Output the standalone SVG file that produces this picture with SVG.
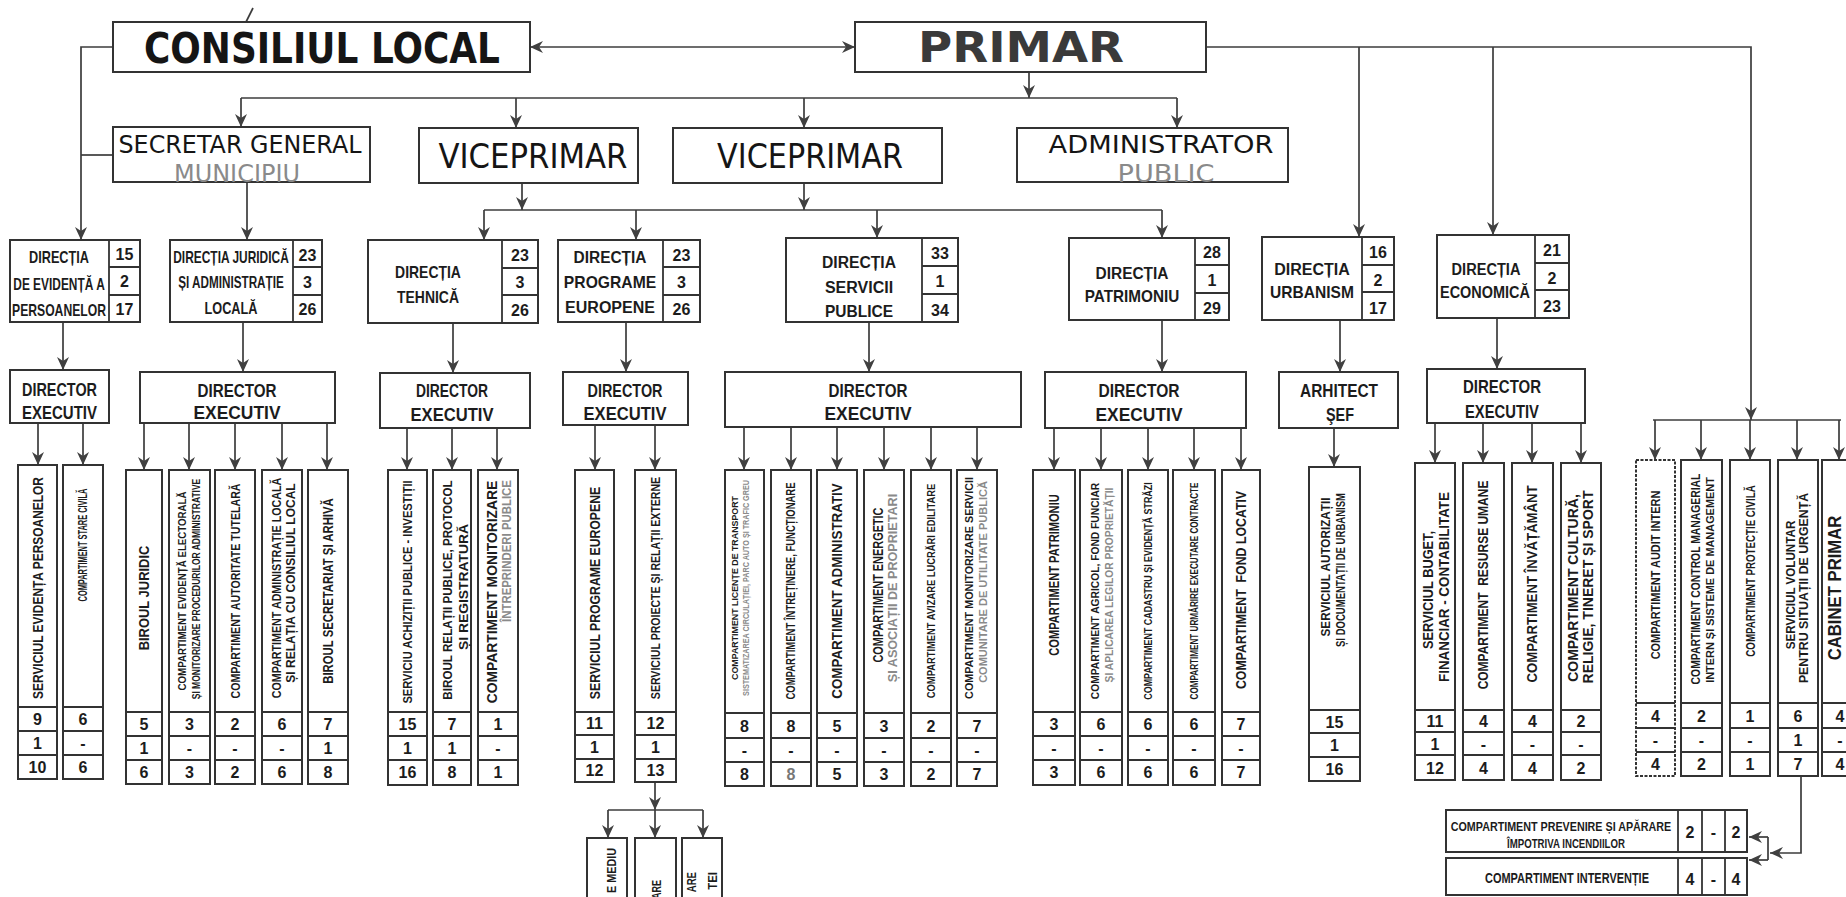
<svg xmlns="http://www.w3.org/2000/svg" width="1846" height="897" viewBox="0 0 1846 897">
<defs>
<marker id="ah" markerUnits="userSpaceOnUse" markerWidth="14" markerHeight="12" refX="13" refY="6" orient="auto-start-reverse" viewBox="0 0 14 12"><path d="M0,0 L13,6 L0,12 L4,6 z" fill="#404040"/></marker>
</defs>
<style>
.bx{fill:#fff;stroke:#333;stroke-width:2}
.dv{stroke:#333;stroke-width:1.8;fill:none}
.ln{stroke:#3c3c3c;stroke-width:1.7;fill:none}
.ar{marker-end:url(#ah)}
.t{font-family:"Liberation Sans",Arial,sans-serif;font-weight:bold;fill:#1c1c1c}
.h{font-family:"DejaVu Sans",Verdana,sans-serif;fill:#151515}
.c{text-anchor:middle}
.e{text-anchor:end}
.g{fill:#8a8a8a}
.n{font-size:16px}
.d{font-size:16px}
.x{font-size:19px}
</style>
<rect width="1846" height="897" fill="#fff"/>

<g id="connectors">
<line class="ln" x1="253" y1="8" x2="246" y2="22"/>
<path class="ln" d="M530,47 H855" marker-start="url(#ah)" marker-end="url(#ah)"/>
<path class="ln ar" d="M113,47 H81 V240"/>
<path class="ln" d="M113,155 H81"/>
<path class="ln ar" d="M1029,72 V98"/>
<path class="ln" d="M241,98 H1177"/>
<path class="ln ar" d="M241,98 V127"/>
<path class="ln ar" d="M516,98 V128"/>
<path class="ln ar" d="M804,98 V128"/>
<path class="ln ar" d="M1177,98 V128"/>
<path class="ln ar" d="M247,182 V240"/>
<path class="ln ar" d="M522,183 V210"/>
<path class="ln ar" d="M804,183 V210"/>
<path class="ln" d="M484,210 H1162"/>
<path class="ln ar" d="M484,210 V240"/>
<path class="ln ar" d="M636,210 V240"/>
<path class="ln ar" d="M877,210 V238"/>
<path class="ln ar" d="M1162,210 V238"/>
<path class="ln ar" d="M1206,47 H1751 V420"/>
<path class="ln ar" d="M1359,47 V237"/>
<path class="ln ar" d="M1493,47 V235"/>
<path class="ln" d="M1653,420 H1841"/>
<path class="ln ar" d="M1655,420 V460"/>
<path class="ln ar" d="M1701,420 V460"/>
<path class="ln ar" d="M1750,420 V460"/>
<path class="ln ar" d="M1797,420 V460"/>
<path class="ln ar" d="M1839,420 V460"/>
<path class="ln ar" d="M63,322 V370"/>
<path class="ln ar" d="M243,322 V372"/>
<path class="ln ar" d="M453,323 V373"/>
<path class="ln ar" d="M626,322 V372"/>
<path class="ln ar" d="M869,322 V372"/>
<path class="ln ar" d="M1162,320 V372"/>
<path class="ln ar" d="M1340,320 V372"/>
<path class="ln ar" d="M1497,318 V369"/>
<path class="ln ar" d="M38,423 V465"/>
<path class="ln ar" d="M83,423 V465"/>
<path class="ln ar" d="M144,423 V470"/>
<path class="ln ar" d="M189,423 V470"/>
<path class="ln ar" d="M235,423 V470"/>
<path class="ln ar" d="M282,423 V470"/>
<path class="ln ar" d="M327,423 V470"/>
<path class="ln ar" d="M407,428 V470"/>
<path class="ln ar" d="M452,428 V470"/>
<path class="ln ar" d="M497,428 V470"/>
<path class="ln ar" d="M595,425 V470"/>
<path class="ln ar" d="M655,425 V470"/>
<path class="ln ar" d="M744,427 V470"/>
<path class="ln ar" d="M791,427 V470"/>
<path class="ln ar" d="M837,427 V470"/>
<path class="ln ar" d="M884,427 V470"/>
<path class="ln ar" d="M931,427 V470"/>
<path class="ln ar" d="M977,427 V470"/>
<path class="ln ar" d="M1054,428 V470"/>
<path class="ln ar" d="M1101,428 V470"/>
<path class="ln ar" d="M1148,428 V470"/>
<path class="ln ar" d="M1194,428 V470"/>
<path class="ln ar" d="M1241,428 V470"/>
<path class="ln ar" d="M1334,428 V467"/>
<path class="ln ar" d="M1435,423 V463"/>
<path class="ln ar" d="M1483,423 V463"/>
<path class="ln ar" d="M1532,423 V463"/>
<path class="ln ar" d="M1581,423 V463"/>
<path class="ln ar" d="M655,782 V810"/>
<path class="ln" d="M608,810 H703"/>
<path class="ln ar" d="M608,810 V838"/>
<path class="ln ar" d="M655,810 V838"/>
<path class="ln ar" d="M703,810 V838"/>
<path class="ln ar" d="M1801,776 V853 H1770"/>
<path class="ln" d="M1768,837 V860"/>
<path class="ln ar" d="M1768,837 H1749"/>
<path class="ln ar" d="M1768,860 H1749"/>
</g>

<g id="consiliul"><rect class="bx" x="113" y="22" width="417" height="50"/><text class="h c" x="322" y="63" font-size="42" font-weight="bold" textLength="356" lengthAdjust="spacingAndGlyphs">CONSILIUL LOCAL</text></g>
<g id="primar"><rect class="bx" x="855" y="22" width="351" height="50"/><text class="h c" x="1021" y="62" font-size="42" font-weight="bold" textLength="206" lengthAdjust="spacingAndGlyphs" style="fill:#3a3a3a">PRIMAR</text></g>
<g id="secretar"><rect class="bx" x="113" y="127" width="257" height="55"/><text class="h c" x="240" y="153" font-size="24" textLength="243" lengthAdjust="spacingAndGlyphs">SECRETAR GENERAL</text><text class="h c" x="237" y="182" font-size="24" textLength="126" lengthAdjust="spacingAndGlyphs" style="fill:#8a8a8a">MUNICIPIU</text></g>
<g id="viceprimar1"><rect class="bx" x="419" y="128" width="219" height="55"/><text class="h c" x="533" y="168" font-size="33" textLength="189" lengthAdjust="spacingAndGlyphs">VICEPRIMAR</text></g>
<g id="viceprimar2"><rect class="bx" x="673" y="128" width="269" height="55"/><text class="h c" x="810" y="168" font-size="33" textLength="186" lengthAdjust="spacingAndGlyphs">VICEPRIMAR</text></g>
<g id="administrator"><rect class="bx" x="1017" y="128" width="271" height="54"/><text class="h c" x="1161" y="153" font-size="25" textLength="225" lengthAdjust="spacingAndGlyphs">ADMINISTRATOR</text><text class="h c" x="1166" y="182" font-size="24" textLength="97" lengthAdjust="spacingAndGlyphs" style="fill:#8a8a8a">PUBLIC</text></g>

<g id="dir_evidenta"><rect class="bx" x="10" y="240" width="130" height="82"/><path class="dv" d="M109 240V322M109 267H140M109 295H140"/>
<text class="t c d" transform="translate(59 263) scale(0.794 1)">DIRECȚIA</text>
<text class="t c d" transform="translate(59 290) scale(0.744 1)">DE EVIDENȚĂ A</text>
<text class="t c d" transform="translate(59 316) scale(0.761 1)">PERSOANELOR</text>
<text class="t c d" x="124.5" y="260">15</text><text class="t c d" x="124.5" y="287">2</text><text class="t c d" x="124.5" y="315">17</text></g>

<g id="dir_juridica"><rect class="bx" x="170" y="240" width="152" height="82"/><path class="dv" d="M293 240V322M293 267H322M293 295H322"/>
<text class="t c d" transform="translate(231 263) scale(0.746 1)">DIRECȚIA JURIDICĂ</text>
<text class="t c d" transform="translate(231 288) scale(0.732 1)">ȘI ADMINISTRAȚIE</text>
<text class="t c d" transform="translate(231 314) scale(0.795 1)">LOCALĂ</text>
<text class="t c d" x="307.5" y="261">23</text><text class="t c d" x="307.5" y="288">3</text><text class="t c d" x="307.5" y="315">26</text></g>

<g id="dir_tehnica"><rect class="bx" x="368" y="240" width="170" height="83"/><path class="dv" d="M502 240V323M502 268H538M502 295H538"/>
<text class="t c d" transform="translate(428 278) scale(0.873 1)">DIRECȚIA</text>
<text class="t c d" transform="translate(428 303) scale(0.872 1)">TEHNICĂ</text>
<text class="t c d" x="520" y="261">23</text><text class="t c d" x="520" y="288">3</text><text class="t c d" x="520" y="316">26</text></g>

<g id="dir_programe"><rect class="bx" x="558" y="240" width="142" height="82"/><path class="dv" d="M663 240V322M663 267H700M663 295H700"/>
<text class="t c d" transform="translate(610 263) scale(0.966 1)">DIRECȚIA</text>
<text class="t c d" transform="translate(610 288) scale(0.98 1)">PROGRAME</text>
<text class="t c d" transform="translate(610 313)">EUROPENE</text>
<text class="t c d" x="681.5" y="261">23</text><text class="t c d" x="681.5" y="288">3</text><text class="t c d" x="681.5" y="315">26</text></g>

<g id="dir_servicii"><rect class="bx" x="786" y="238" width="172" height="84"/><path class="dv" d="M922 238V322M922 266H958M922 294H958"/>
<text class="t c d" transform="translate(859 268) scale(0.979 1)">DIRECȚIA</text>
<text class="t c d" transform="translate(859 293)">SERVICII</text>
<text class="t c d" transform="translate(859 317) scale(0.97 1)">PUBLICE</text>
<text class="t c d" x="940" y="259">33</text><text class="t c d" x="940" y="287">1</text><text class="t c d" x="940" y="316">34</text></g>

<g id="dir_patrimoniu"><rect class="bx" x="1069" y="238" width="160" height="82"/><path class="dv" d="M1195 238V320M1195 265H1229M1195 293H1229"/>
<text class="t c d" transform="translate(1132 279) scale(0.966 1)">DIRECȚIA</text>
<text class="t c d" transform="translate(1132 302) scale(0.957 1)">PATRIMONIU</text>
<text class="t c d" x="1212" y="258">28</text><text class="t c d" x="1212" y="286">1</text><text class="t c d" x="1212" y="314">29</text></g>

<g id="dir_urbanism"><rect class="bx" x="1262" y="237" width="132" height="83"/><path class="dv" d="M1362 237V320M1362 265H1394M1362 292H1394"/>
<text class="t c d" transform="translate(1312 275)">DIRECȚIA</text>
<text class="t c d" transform="translate(1312 298) scale(0.974 1)">URBANISM</text>
<text class="t c d" x="1378" y="258">16</text><text class="t c d" x="1378" y="286">2</text><text class="t c d" x="1378" y="314">17</text></g>

<g id="dir_economica"><rect class="bx" x="1437" y="235" width="132" height="83"/><path class="dv" d="M1535 235V318M1535 263H1569M1535 290H1569"/>
<text class="t c d" transform="translate(1486 275) scale(0.913 1)">DIRECȚIA</text>
<text class="t c d" transform="translate(1485 298) scale(0.904 1)">ECONOMICĂ</text>
<text class="t c d" x="1552" y="256">21</text><text class="t c d" x="1552" y="284">2</text><text class="t c d" x="1552" y="312">23</text></g>

<g id="de_evidenta"><rect class="bx" x="10" y="370" width="99" height="53"/><text class="t c x" x="59.5" y="396" textLength="75" lengthAdjust="spacingAndGlyphs">DIRECTOR</text><text class="t c x" x="59.5" y="419" textLength="75" lengthAdjust="spacingAndGlyphs">EXECUTIV</text></g>
<g id="de_juridica"><rect class="bx" x="140" y="372" width="195" height="51"/><text class="t c x" x="237" y="397" textLength="79" lengthAdjust="spacingAndGlyphs">DIRECTOR</text><text class="t c x" x="237" y="419" textLength="87" lengthAdjust="spacingAndGlyphs">EXECUTIV</text></g>
<g id="de_tehnica"><rect class="bx" x="380" y="373" width="150" height="55"/><text class="t c x" x="452" y="397" textLength="72" lengthAdjust="spacingAndGlyphs">DIRECTOR</text><text class="t c x" x="452" y="421" textLength="83" lengthAdjust="spacingAndGlyphs">EXECUTIV</text></g>
<g id="de_programe"><rect class="bx" x="563" y="372" width="125" height="53"/><text class="t c x" x="625" y="397" textLength="75" lengthAdjust="spacingAndGlyphs">DIRECTOR</text><text class="t c x" x="625" y="420" textLength="83" lengthAdjust="spacingAndGlyphs">EXECUTIV</text></g>
<g id="de_servicii"><rect class="bx" x="725" y="372" width="296" height="55"/><text class="t c x" x="868" y="397" textLength="79" lengthAdjust="spacingAndGlyphs">DIRECTOR</text><text class="t c x" x="868" y="420" textLength="87" lengthAdjust="spacingAndGlyphs">EXECUTIV</text></g>
<g id="de_patrimoniu"><rect class="bx" x="1045" y="372" width="201" height="56"/><text class="t c x" x="1139" y="397" textLength="81" lengthAdjust="spacingAndGlyphs">DIRECTOR</text><text class="t c x" x="1139" y="421" textLength="87" lengthAdjust="spacingAndGlyphs">EXECUTIV</text></g>
<g id="arhitect"><rect class="bx" x="1279" y="372" width="119" height="56"/><text class="t c x" x="1339" y="397" textLength="78" lengthAdjust="spacingAndGlyphs">ARHITECT</text><text class="t c x" x="1340" y="421" textLength="28" lengthAdjust="spacingAndGlyphs">ŞEF</text></g>
<g id="de_economica"><rect class="bx" x="1427" y="369" width="158" height="54"/><text class="t c x" x="1502" y="393" textLength="78" lengthAdjust="spacingAndGlyphs">DIRECTOR</text><text class="t c x" x="1502" y="418" textLength="74" lengthAdjust="spacingAndGlyphs">EXECUTIV</text></g>

<g id="v1"><rect class="bx" x="18" y="465" width="39" height="314"/><path class="dv" d="M18 707H57M18 731H57M18 755H57"/><text class="t c" font-size="15" transform="translate(43.4 588) rotate(-90) scale(0.796 1)">SERVICIUL EVIDENȚA PERSOANELOR</text><text class="t c n" x="37.5" y="725">9</text><text class="t c n" x="37.5" y="749">1</text><text class="t c n" x="37.5" y="773">10</text></g>
<g id="v2"><rect class="bx" x="63" y="465" width="40" height="314"/><path class="dv" d="M63 707H103M63 731H103M63 755H103"/><text class="t c" font-size="12" transform="translate(87.3 545) rotate(-90) scale(0.617 1)">COMPARTIMENT STARE CIVILĂ</text><text class="t c n" x="83" y="725">6</text><text class="t c n" x="83" y="749">-</text><text class="t c n" x="83" y="773">6</text></g>

<g id="v3"><rect class="bx" x="126" y="470" width="36" height="314"/><path class="dv" d="M126 712H162M126 736H162M126 760H162"/><text class="t c" font-size="15" transform="translate(149.4 598) rotate(-90) scale(0.863 1)">BIROUL JURIDIC</text><text class="t c n" x="144" y="730">5</text><text class="t c n" x="144" y="754">1</text><text class="t c n" x="144" y="778">6</text></g>
<g id="v4"><rect class="bx" x="169" y="470" width="41" height="314"/><path class="dv" d="M169 712H210M169 736H210M169 760H210"/><text class="t c" font-size="10" transform="translate(185.6 591) rotate(-90) scale(0.971 1)">COMPARTIMENT EVIDENȚĂ ELECTORALĂ</text><text class="t c" font-size="10" transform="translate(199.6 589) rotate(-90) scale(0.85 1)">ȘI MONITORIZARE PROCEDURILOR ADMINISTRATIVE</text><text class="t c n" x="189.5" y="730">3</text><text class="t c n" x="189.5" y="754">-</text><text class="t c n" x="189.5" y="778">3</text></g>
<g id="v5"><rect class="bx" x="215" y="470" width="40" height="314"/><path class="dv" d="M215 712H255M215 736H255M215 760H255"/><text class="t c" font-size="13" transform="translate(239.7 591) rotate(-90) scale(0.816 1)">COMPARTIMENT AUTORITATE TUTELARĂ</text><text class="t c n" x="235" y="730">2</text><text class="t c n" x="235" y="754">-</text><text class="t c n" x="235" y="778">2</text></g>
<g id="v6"><rect class="bx" x="262" y="470" width="40" height="314"/><path class="dv" d="M262 712H302M262 736H302M262 760H302"/><text class="t c" font-size="12" transform="translate(281.3 588) rotate(-90) scale(0.893 1)">COMPARTIMENT ADMINISTRAȚIE LOCALĂ</text><text class="t c" font-size="12" transform="translate(295.3 583) rotate(-90)">ȘI RELAȚIA CU CONSILIUL LOCAL</text><text class="t c n" x="282" y="730">6</text><text class="t c n" x="282" y="754">-</text><text class="t c n" x="282" y="778">6</text></g>
<g id="v7"><rect class="bx" x="308" y="470" width="40" height="314"/><path class="dv" d="M308 712H348M308 736H348M308 760H348"/><text class="t c" font-size="14" transform="translate(333 591) rotate(-90) scale(0.811 1)">BIROUL SECRETARIAT ȘI ARHIVĂ</text><text class="t c n" x="328" y="730">7</text><text class="t c n" x="328" y="754">1</text><text class="t c n" x="328" y="778">8</text></g>

<g id="v8"><rect class="bx" x="388" y="470" width="39" height="315"/><path class="dv" d="M388 712H427M388 736H427M388 760H427"/><text class="t c" font-size="13" transform="translate(411.7 592) rotate(-90) scale(0.857 1)">SERVICIU ACHIZIȚII PUBLICE - INVESTIȚII</text><text class="t c n" x="407.5" y="730">15</text><text class="t c n" x="407.5" y="754">1</text><text class="t c n" x="407.5" y="778">16</text></g>
<g id="v9"><rect class="bx" x="433" y="470" width="38" height="315"/><path class="dv" d="M433 712H471M433 736H471M433 760H471"/><text class="t c" font-size="12" transform="translate(452.3 590) rotate(-90) scale(0.97 1)">BIROUL RELAȚII PUBLICE, PROTOCOL</text><text class="t c" font-size="13" transform="translate(467.7 587) rotate(-90) scale(1.067 1)">ȘI REGISTRATURĂ</text><text class="t c n" x="452" y="730">7</text><text class="t c n" x="452" y="754">1</text><text class="t c n" x="452" y="778">8</text></g>
<g id="v10"><rect class="bx" x="478" y="470" width="40" height="315"/><path class="dv" d="M478 712H518M478 736H518M478 760H518"/><text class="t c" font-size="14" transform="translate(497 592) rotate(-90) scale(0.99 1)">COMPARTIMENT MONITORIZARE</text><text class="t c g" font-size="13" transform="translate(510.7 551) rotate(-90) scale(0.878 1)">ÎNTREPRINDERI PUBLICE</text><text class="t c n" x="498" y="730">1</text><text class="t c n" x="498" y="754">-</text><text class="t c n" x="498" y="778">1</text></g>

<g id="v11"><rect class="bx" x="575" y="470" width="39" height="312"/><path class="dv" d="M575 712H614M575 735H614M575 759H614"/><text class="t c" font-size="14" transform="translate(600 593) rotate(-90) scale(0.875 1)">SERVICIUL PROGRAME EUROPENE</text><text class="t c n" x="594.5" y="729">11</text><text class="t c n" x="594.5" y="753">1</text><text class="t c n" x="594.5" y="776">12</text></g>
<g id="v12"><rect class="bx" x="635" y="470" width="41" height="312"/><path class="dv" d="M635 712H676M635 735H676M635 759H676"/><text class="t c" font-size="13" transform="translate(659.7 588) rotate(-90) scale(0.812 1)">SERVICIUL PROIECTE ȘI RELAȚII EXTERNE</text><text class="t c n" x="655.5" y="729">12</text><text class="t c n" x="655.5" y="753">1</text><text class="t c n" x="655.5" y="776">13</text></g>

<g id="v13"><rect class="bx" x="725" y="470" width="39" height="316"/><path class="dv" d="M725 713H764M725 738H764M725 762H764"/><text class="t c" font-size="9" transform="translate(738.2 588) rotate(-90) scale(0.984 1)">COMPARTIMENT LICENȚE DE TRANSPORT</text><text class="t c g" font-size="9" transform="translate(749.2 588) rotate(-90) scale(0.801 1)">SISTEMATIZAREA CIRCULAȚIEI, PARC AUTO ȘI TRAFIC GREU</text><text class="t c n" x="744.5" y="731.5">8</text><text class="t c n" x="744.5" y="756">-</text><text class="t c n" x="744.5" y="780">8</text></g>
<g id="v14"><rect class="bx" x="771" y="470" width="40" height="316"/><path class="dv" d="M771 713H811M771 738H811M771 762H811"/><text class="t c" font-size="12" transform="translate(795.3 591) rotate(-90) scale(0.792 1)">COMPARTIMENT ÎNTREȚINERE, FUNCȚIONARE</text><text class="t c n" x="791" y="731.5">8</text><text class="t c n" x="791" y="756">-</text><text class="t c n" x="791" y="780" style="fill:#777">8</text></g>
<g id="v15"><rect class="bx" x="817" y="470" width="40" height="316"/><path class="dv" d="M817 713H857M817 738H857M817 762H857"/><text class="t c" font-size="15" transform="translate(842.4 591) rotate(-90) scale(0.893 1)">COMPARTIMENT ADMINISTRATIV</text><text class="t c n" x="837" y="731.5">5</text><text class="t c n" x="837" y="756">-</text><text class="t c n" x="837" y="780">5</text></g>
<g id="v16"><rect class="bx" x="864" y="470" width="40" height="316"/><path class="dv" d="M864 713H904M864 738H904M864 762H904"/><text class="t c" font-size="14" transform="translate(883 585) rotate(-90) scale(0.78 1)">COMPARTIMENT ENERGETIC</text><text class="t c g" font-size="13" transform="translate(896.7 588) rotate(-90) scale(0.97 1)">ȘI ASOCIAȚII DE PROPRIETARI</text><text class="t c n" x="884" y="731.5">3</text><text class="t c n" x="884" y="756">-</text><text class="t c n" x="884" y="780">3</text></g>
<g id="v17"><rect class="bx" x="911" y="470" width="40" height="316"/><path class="dv" d="M911 713H951M911 738H951M911 762H951"/><text class="t c" font-size="11" transform="translate(935 591) rotate(-90) scale(0.852 1)">COMPARTIMENT AVIZARE LUCRĂRI EDILITARE</text><text class="t c n" x="931" y="731.5">2</text><text class="t c n" x="931" y="756">-</text><text class="t c n" x="931" y="780">2</text></g>
<g id="v18"><rect class="bx" x="957" y="470" width="40" height="316"/><path class="dv" d="M957 713H997M957 738H997M957 762H997"/><text class="t c" font-size="11" transform="translate(973 588) rotate(-90) scale(0.979 1)">COMPARTIMENT MONITORIZARE SERVICII</text><text class="t c g" font-size="11" transform="translate(987 582) rotate(-90)">COMUNITARE DE UTILITATE PUBLICĂ</text><text class="t c n" x="977" y="731.5">7</text><text class="t c n" x="977" y="756">-</text><text class="t c n" x="977" y="780">7</text></g>

<g id="v19"><rect class="bx" x="1033" y="470" width="42" height="315"/><path class="dv" d="M1033 712H1075M1033 736H1075M1033 760H1075"/><text class="t c" font-size="15" transform="translate(1059.4 575) rotate(-90) scale(0.74 1)">COMPARTIMENT PATRIMONIU</text><text class="t c n" x="1054" y="730">3</text><text class="t c n" x="1054" y="754">-</text><text class="t c n" x="1054" y="778">3</text></g>
<g id="v20"><rect class="bx" x="1080" y="470" width="42" height="315"/><path class="dv" d="M1080 712H1122M1080 736H1122M1080 760H1122"/><text class="t c" font-size="11" transform="translate(1099 591) rotate(-90) scale(0.934 1)">COMPARTIMENT AGRICOL, FOND FUNCIAR</text><text class="t c g" font-size="11" transform="translate(1113 585) rotate(-90) scale(0.935 1)">ȘI APLICAREA LEGILOR PROPRIETĂȚII</text><text class="t c n" x="1101" y="730">6</text><text class="t c n" x="1101" y="754">-</text><text class="t c n" x="1101" y="778">6</text></g>
<g id="v21"><rect class="bx" x="1128" y="470" width="40" height="315"/><path class="dv" d="M1128 712H1168M1128 736H1168M1128 760H1168"/><text class="t c" font-size="11" transform="translate(1152 591) rotate(-90) scale(0.809 1)">COMPARTIMENT CADASTRU ȘI EVIDENȚĂ STRĂZI</text><text class="t c n" x="1148" y="730">6</text><text class="t c n" x="1148" y="754">-</text><text class="t c n" x="1148" y="778">6</text></g>
<g id="v22"><rect class="bx" x="1173" y="470" width="42" height="315"/><path class="dv" d="M1173 712H1215M1173 736H1215M1173 760H1215"/><text class="t c" font-size="10" transform="translate(1197.6 591) rotate(-90) scale(0.813 1)">COMPARTIMENT URMĂRIRE EXECUTARE CONTRACTE</text><text class="t c n" x="1194" y="730">6</text><text class="t c n" x="1194" y="754">-</text><text class="t c n" x="1194" y="778">6</text></g>
<g id="v23"><rect class="bx" x="1222" y="470" width="38" height="315"/><path class="dv" d="M1222 712H1260M1222 736H1260M1222 760H1260"/><text class="t c" font-size="14" style="white-space:pre" transform="translate(1246 590) rotate(-90) scale(0.881 1)">COMPARTIMENT  FOND LOCATIV</text><text class="t c n" x="1241" y="730">7</text><text class="t c n" x="1241" y="754">-</text><text class="t c n" x="1241" y="778">7</text></g>

<g id="v24"><rect class="bx" x="1309" y="467" width="51" height="314"/><path class="dv" d="M1309 710H1360M1309 733H1360M1309 757H1360"/><text class="t c" font-size="12" transform="translate(1330.3 567) rotate(-90) scale(0.977 1)">SERVICIUL AUTORIZAȚII</text><text class="t c" font-size="12" transform="translate(1345.3 570) rotate(-90) scale(0.796 1)">ȘI DOCUMENTAȚII DE URBANISM</text><text class="t c n" x="1334.5" y="727.5">15</text><text class="t c n" x="1334.5" y="751">1</text><text class="t c n" x="1334.5" y="775">16</text></g>

<g id="v25"><rect class="bx" x="1415" y="463" width="40" height="317"/><path class="dv" d="M1415 710H1455M1415 732H1455M1415 755H1455"/><text class="t c" font-size="14" transform="translate(1433 590) rotate(-90) scale(0.913 1)">SERVICIUL BUGET,</text><text class="t c" font-size="14" transform="translate(1449 587) rotate(-90) scale(0.954 1)">FINANCIAR - CONTABILITATE</text><text class="t c n" x="1435" y="727">11</text><text class="t c n" x="1435" y="749.5">1</text><text class="t c n" x="1435" y="773.5">12</text></g>
<g id="v26"><rect class="bx" x="1463" y="463" width="41" height="317"/><path class="dv" d="M1463 710H1504M1463 732H1504M1463 755H1504"/><text class="t c" font-size="14" style="white-space:pre" transform="translate(1488 585) rotate(-90) scale(0.857 1)">COMPARTIMENT  RESURSE UMANE</text><text class="t c n" x="1483.5" y="727">4</text><text class="t c n" x="1483.5" y="749.5">-</text><text class="t c n" x="1483.5" y="773.5">4</text></g>
<g id="v27"><rect class="bx" x="1512" y="463" width="41" height="317"/><path class="dv" d="M1512 710H1553M1512 732H1553M1512 755H1553"/><text class="t c" font-size="15" transform="translate(1537.4 584) rotate(-90) scale(0.877 1)">COMPARTIMENT ÎNVĂȚĂMÂNT</text><text class="t c n" x="1532.5" y="727">4</text><text class="t c n" x="1532.5" y="749.5">-</text><text class="t c n" x="1532.5" y="773.5">4</text></g>
<g id="v28"><rect class="bx" x="1561" y="463" width="40" height="317"/><path class="dv" d="M1561 710H1601M1561 732H1601M1561 755H1601"/><text class="t c" font-size="14" transform="translate(1578 588) rotate(-90)">COMPARTIMENT CULTURĂ,</text><text class="t c" font-size="14" transform="translate(1593 587) rotate(-90)">RELIGIE, TINERET ȘI SPORT</text><text class="t c n" x="1581" y="727">2</text><text class="t c n" x="1581" y="749.5">-</text><text class="t c n" x="1581" y="773.5">2</text></g>

<g id="v29"><rect class="bx" x="1636" y="460" width="39" height="316" stroke-dasharray="3 1.5"/><path class="dv" d="M1636 703H1675M1636 728H1675M1636 752H1675"/><text class="t c" font-size="13" transform="translate(1659.7 575) rotate(-90) scale(0.844 1)">COMPARTIMENT AUDIT INTERN</text><text class="t c n" x="1655.5" y="721.5">4</text><text class="t c n" x="1655.5" y="746">-</text><text class="t c n" x="1655.5" y="770">4</text></g>
<g id="v30"><rect class="bx" x="1681" y="460" width="41" height="316"/><path class="dv" d="M1681 703H1722M1681 728H1722M1681 752H1722"/><text class="t c" font-size="12" transform="translate(1700.3 579) rotate(-90) scale(0.864 1)">COMPARTIMENT CONTROL MANAGERIAL</text><text class="t c" font-size="11" transform="translate(1714 580) rotate(-90) scale(0.994 1)">INTERN ȘI SISTEME DE MANAGEMENT</text><text class="t c n" x="1701.5" y="721.5">2</text><text class="t c n" x="1701.5" y="746">-</text><text class="t c n" x="1701.5" y="770">2</text></g>
<g id="v31"><rect class="bx" x="1730" y="460" width="40" height="316"/><path class="dv" d="M1730 703H1770M1730 728H1770M1730 752H1770"/><text class="t c" font-size="13" transform="translate(1754.7 571) rotate(-90) scale(0.747 1)">COMPARTIMENT PROTECȚIE CIVILĂ</text><text class="t c n" x="1750" y="721.5">1</text><text class="t c n" x="1750" y="746">-</text><text class="t c n" x="1750" y="770">1</text></g>
<g id="v32"><rect class="bx" x="1778" y="460" width="40" height="316"/><path class="dv" d="M1778 703H1818M1778 728H1818M1778 752H1818"/><text class="t c" font-size="12" transform="translate(1795.3 585) rotate(-90) scale(0.97 1)">SERVICIUL VOLUNTAR</text><text class="t c" font-size="12" transform="translate(1808.3 588) rotate(-90) scale(1.027 1)">PENTRU SITUAȚII DE URGENȚĂ</text><text class="t c n" x="1798" y="721.5">6</text><text class="t c n" x="1798" y="746">1</text><text class="t c n" x="1798" y="770">7</text></g>
<g id="v33"><rect class="bx" x="1822" y="460" width="44" height="316"/><path class="dv" d="M1822 703H1866M1822 728H1866M1822 752H1866"/><text class="t c" font-size="19" transform="translate(1840.8 588) rotate(-90) scale(0.88 1)">CABINET PRIMAR</text><text class="t c n" x="1840" y="721.5">4</text><text class="t c n" x="1840" y="746">-</text><text class="t c n" x="1840" y="770">4</text></g>

<g id="sub_a"><rect class="bx" x="587" y="838" width="40" height="70"/><text class="t e" font-size="12" transform="translate(616 848) rotate(-90) scale(0.9 1)">E MEDIU</text></g>
<g id="sub_b"><rect class="bx" x="635" y="838" width="41" height="70"/><text class="t e" font-size="12" transform="translate(661 880) rotate(-90) scale(0.75 1)">ARE</text></g>
<g id="sub_c"><rect class="bx" x="682" y="838" width="40" height="70"/><text class="t e" font-size="12" transform="translate(696 872) rotate(-90) scale(0.8 1)">ARE</text><text class="t e" font-size="12" transform="translate(717 872) rotate(-90) scale(0.95 1)">TEI</text></g>

<g id="prevenire"><rect class="bx" x="1446" y="810" width="301" height="42"/><path class="dv" d="M1678 810V852M1702 810V852M1725 810V852"/><text class="t c" font-size="13" transform="translate(1561 831) scale(0.826 1)">COMPARTIMENT PREVENIRE ȘI APĂRARE</text><text class="t c" font-size="13" transform="translate(1566 848) scale(0.743 1)">ÎMPOTRIVA INCENDIILOR</text><text class="t c n" x="1690" y="838">2</text><text class="t c n" x="1713.5" y="838">-</text><text class="t c n" x="1736" y="838">2</text></g>
<g id="interventie"><rect class="bx" x="1446" y="858" width="301" height="37"/><path class="dv" d="M1678 858V895M1702 858V895M1725 858V895"/><text class="t c" font-size="14" transform="translate(1567 883) scale(0.783 1)">COMPARTIMENT INTERVENȚIE</text><text class="t c n" x="1690" y="885">4</text><text class="t c n" x="1713.5" y="885">-</text><text class="t c n" x="1736" y="885">4</text></g>
</svg>
